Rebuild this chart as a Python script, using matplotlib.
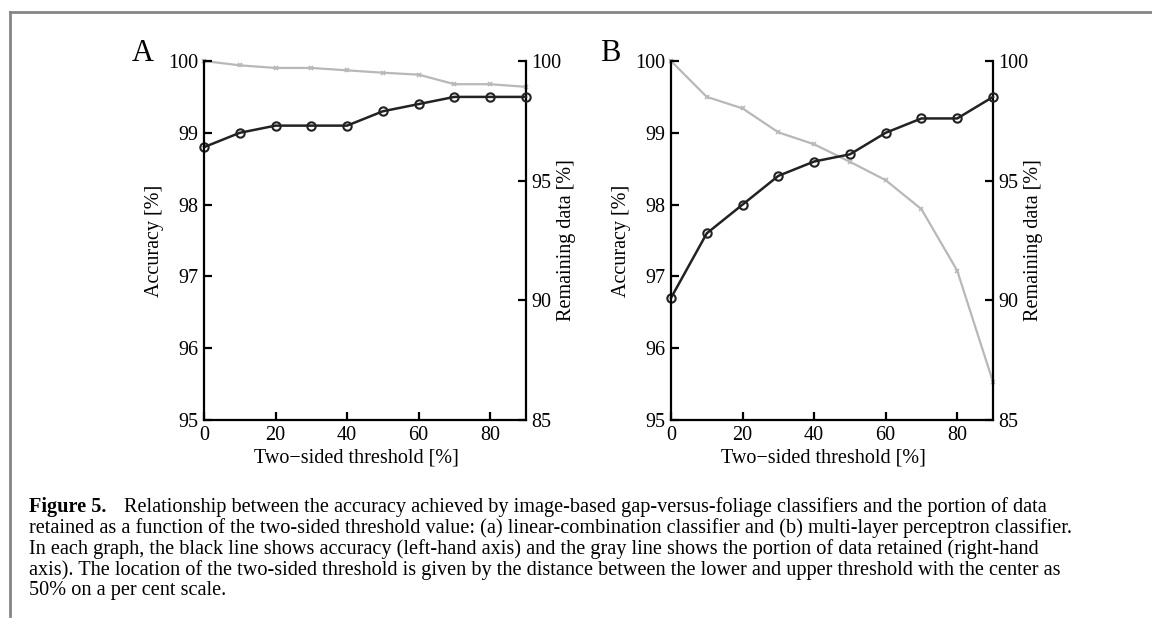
import matplotlib
matplotlib.use('Agg')
from matplotlib import pyplot as plt
from matplotlib.lines import Line2D
import numpy as np

plt.rcParams['font.family'] = ['Liberation Serif', 'DejaVu Serif']

threshold = [0, 10, 20, 30, 40, 50, 60, 70, 80, 90]

# panel A: linear-combination classifier
acc_a = [98.8, 99.0, 99.1, 99.1, 99.1, 99.3, 99.4, 99.5, 99.5, 99.5]
remain_a = [100.0, 99.82, 99.71, 99.71, 99.61, 99.51, 99.43, 99.03, 99.03, 98.92]

# panel B: multi-layer perceptron classifier
acc_b = [96.7, 97.6, 98.0, 98.4, 98.6, 98.7, 99.0, 99.2, 99.2, 99.5]
remain_b = [100.0, 98.5, 98.02, 97.02, 96.52, 95.79, 95.02, 93.81, 91.24, 86.59]

acc_ticks = [95, 96, 97, 98, 99, 100]
remain_ticks = [85, 90, 95, 100]
x_ticks = [0, 20, 40, 60, 80]

caption_head = 'Figure 5.'
caption_lines = [
    'Relationship between the accuracy achieved by image-based gap-versus-foliage classifiers and the portion of data',
    'retained as a function of the two-sided threshold value: (a) linear-combination classifier and (b) multi-layer perceptron classifier.',
    'In each graph, the black line shows accuracy (left-hand axis) and the gray line shows the portion of data retained (right-hand',
    'axis). The location of the two-sided threshold is given by the distance between the lower and upper threshold with the center as',
    '50% on a per cent scale.',
]

W, H = 1152, 619
fig = plt.figure(figsize=(W / 100, H / 100), dpi=100)

def panel(left, acc, remain, letter):
    ax = fig.add_axes([left / W, 1 - 420 / H, 322 / W, 359 / H])
    ax2 = ax.twinx()
    ax.set_zorder(ax2.get_zorder() + 1)
    ax.patch.set_visible(False)

    ax2.plot(threshold, remain, color='#b8b8b8', lw=1.6, marker='x', ms=3.5,
             mew=1.2, clip_on=False)
    ax.plot(threshold, acc, color='#222222', lw=1.8, marker='o', ms=6,
            mfc='none', mec='#222222', mew=1.5, clip_on=False)

    ax.set_xlim(0, 90)
    ax.set_ylim(95, 100)
    ax2.set_ylim(85, 100)
    ax.set_xticks(x_ticks)
    ax.set_yticks(acc_ticks)
    ax2.set_yticks(remain_ticks)

    for a in (ax, ax2):
        a.spines['top'].set_visible(False)
        for s in ('left', 'right', 'bottom'):
            a.spines[s].set_linewidth(1.6)
        a.tick_params(direction='in', length=6, width=1.6, labelsize=14.5, pad=4)
    ax.spines['right'].set_visible(False)
    ax2.spines['left'].set_visible(False)
    ax2.spines['bottom'].set_visible(False)

    ax.set_ylabel('Accuracy [%]', fontsize=14.5)
    ax.yaxis.set_label_coords(-0.123, 0.5)
    ax2.set_ylabel('Remaining data [%]', fontsize=14.5)
    ax2.yaxis.set_label_coords(1.096, 0.5)
    ax.set_xlabel('Two\u2212sided threshold [%]', fontsize=14.5)
    ax.xaxis.set_label_coords(0.474, -0.078)

    ax.text(-0.19, 1.02, letter, transform=ax.transAxes, fontsize=22,
            ha='center', va='center')
    return ax

panel(204, acc_a, remain_a, 'A')
panel(671, acc_b, remain_b, 'B')

# frame lines
fig.add_artist(Line2D([10 / W, 1.0], [1 - 12 / H, 1 - 12 / H], color='#858585', lw=2))
fig.add_artist(Line2D([10 / W, 10 / W], [1 - 12 / H, 1 - 616 / H], color='#858585', lw=2))

# caption
cap_size = 14.6
y0 = 507
dy = 21
fig.text(29 / W, 1 - y0 / H, caption_head, fontsize=cap_size, weight='bold', va='center')
fig.text(124 / W, 1 - y0 / H, caption_lines[0], fontsize=cap_size, va='center')
for i, line in enumerate(caption_lines[1:], start=1):
    fig.text(29 / W, 1 - (y0 + dy * i) / H, line, fontsize=cap_size, va='center')

fig.savefig('out.png', dpi=100)
